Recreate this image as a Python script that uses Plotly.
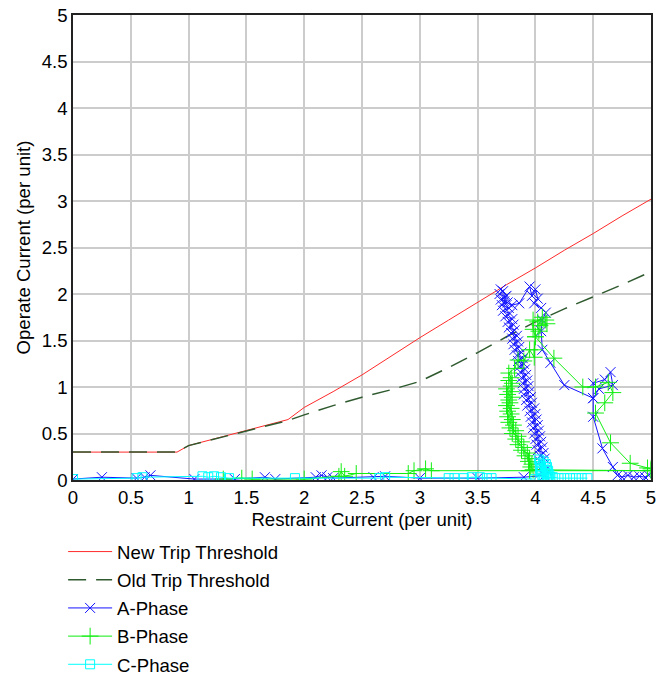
import plotly.graph_objects as go

# Thresholds
new_x = [0.0, 0.5, 0.9, 1.0, 1.25, 1.5, 1.75, 1.86, 2.0, 2.25, 2.5, 2.75, 3.0, 3.25, 3.5, 3.75, 4.0, 4.25, 4.5, 4.75, 5.0]
new_y = [0.30, 0.30, 0.30, 0.37, 0.45, 0.53, 0.61, 0.65, 0.78, 0.95, 1.13, 1.33, 1.53, 1.72, 1.91, 2.10, 2.28, 2.47, 2.65, 2.84, 3.02]

old_x = [0.0, 0.5, 0.9, 1.0, 1.25, 1.5, 1.75, 1.86, 2.0, 2.25, 2.5, 2.75, 3.0, 3.25, 3.5, 3.75, 4.0, 4.25, 4.5, 4.75, 5.0]
old_y = [0.30, 0.30, 0.30, 0.37, 0.45, 0.53, 0.61, 0.64, 0.70, 0.80, 0.89, 0.97, 1.06, 1.21, 1.37, 1.54, 1.70, 1.84, 1.97, 2.10, 2.24]

# A-Phase
a_x = [0.00, 0.25, 0.55, 0.62, 0.67, 1.05, 1.40, 1.66, 1.75, 2.10, 2.15, 2.20, 2.25, 2.60, 2.70, 3.00, 3.50, 3.90,
       4.08, 4.05, 4.09, 4.05, 4.08, 4.04, 4.08, 4.04, 4.07, 4.02, 4.06, 4.01, 4.05, 4.00, 4.04, 3.99, 4.03, 3.98,
       4.02, 3.97, 4.01, 3.96, 4.00, 3.95, 3.99, 3.93, 3.97, 3.92, 3.96, 3.90, 3.95, 3.90, 3.94, 3.89, 3.93, 3.88,
       3.92, 3.87, 3.91, 3.86, 3.90, 3.85, 3.89, 3.84, 3.88, 3.82, 3.86, 3.81, 3.85, 3.80, 3.84, 3.79, 3.82, 3.77,
       3.81, 3.76, 3.80, 3.74, 3.78, 3.72, 3.77, 3.71, 3.76, 3.70, 3.74, 3.69, 3.72, 3.70, 3.75, 3.73,
       3.80, 3.86, 3.95, 3.97, 4.00, 4.02, 3.99, 4.05, 4.09, 4.06, 4.05, 4.06, 4.13, 4.25, 4.50, 4.50, 4.60, 4.65,
       4.67, 4.55, 4.50, 4.50, 4.58, 4.67, 4.71, 4.75, 4.80, 4.85, 4.90, 4.95, 4.98]
a_y = [0.01, 0.03, 0.02, 0.03, 0.05, 0.01, 0.01, 0.03, 0.01, 0.03, 0.05, 0.03, 0.02, 0.03, 0.04, 0.02, 0.02, 0.03,
       0.05, 0.08, 0.11, 0.14, 0.17, 0.20, 0.23, 0.26, 0.29, 0.32, 0.35, 0.38, 0.41, 0.44, 0.47, 0.50, 0.53, 0.56,
       0.59, 0.62, 0.65, 0.68, 0.71, 0.74, 0.77, 0.80, 0.83, 0.86, 0.89, 0.92, 0.95, 0.98, 1.01, 1.04, 1.07, 1.10,
       1.13, 1.16, 1.19, 1.22, 1.25, 1.28, 1.31, 1.34, 1.37, 1.40, 1.43, 1.46, 1.49, 1.52, 1.55, 1.58, 1.61, 1.64,
       1.67, 1.70, 1.73, 1.76, 1.79, 1.82, 1.85, 1.88, 1.91, 1.94, 1.97, 2.00, 2.03, 2.05, 1.98, 1.92,
       1.88, 1.90, 2.08, 1.98, 2.05, 1.95, 1.90, 1.85, 1.80, 1.72, 1.60, 1.40, 1.26, 1.02, 0.88, 1.04, 1.08, 1.16,
       1.02, 0.98, 0.88, 0.68, 0.34, 0.14, 0.05, 0.03, 0.05, 0.03, 0.04, 0.03, 0.05]

# B-Phase
b_x = [1.30, 1.46, 1.55, 2.00, 2.30, 2.32, 2.35, 2.45, 2.90, 2.95, 3.05, 3.10, 3.95, 5.00, 3.98,
       3.96, 3.97, 3.94, 3.95, 3.91, 3.93, 3.88, 3.90, 3.85, 3.88, 3.83, 3.85, 3.80, 3.83, 3.78, 3.81, 3.77,
       3.80, 3.76, 3.79, 3.76, 3.79, 3.75, 3.78, 3.77, 3.80, 3.76, 3.79, 3.75, 3.79, 3.80, 3.77, 3.79, 3.77,
       3.82, 3.85, 3.90, 3.95, 3.99, 3.99, 4.00, 3.98, 3.98, 4.02, 4.06, 4.09, 4.04, 4.10, 4.03, 4.00,
       4.16, 4.41, 4.52, 4.63, 4.67, 4.60, 4.52, 4.65, 4.82, 4.97, 5.00]
b_y = [0.01, 0.02, 0.01, 0.01, 0.04, 0.09, 0.04, 0.07, 0.07, 0.10, 0.12, 0.10, 0.10, 0.10, 0.11,
       0.14, 0.17, 0.20, 0.23, 0.26, 0.29, 0.32, 0.35, 0.38, 0.41, 0.44, 0.47, 0.50, 0.53, 0.56, 0.59, 0.62,
       0.65, 0.68, 0.71, 0.74, 0.77, 0.80, 0.83, 0.86, 0.89, 0.92, 0.95, 0.98, 1.01, 1.04, 1.07, 1.10, 1.15,
       1.20, 1.29, 1.28, 1.40, 1.32, 1.40, 1.54, 1.62, 1.72, 1.70, 1.75, 1.72, 1.66, 1.68, 1.60, 1.54,
       1.31, 1.00, 1.00, 1.05, 0.94, 0.83, 0.72, 0.40, 0.18, 0.13, 0.12]

# C-Phase
c_x = [0.00, 0.55, 0.60, 1.12, 1.17, 1.22, 1.28, 1.35, 1.92, 2.65, 2.70, 3.25, 3.30, 3.38, 3.45, 3.52, 3.58, 3.62, 4.00,
       4.03, 4.07, 4.04, 4.09, 4.05, 4.10, 4.04, 4.08, 4.11, 4.05, 4.09, 4.12, 4.06, 4.10, 4.13, 4.07, 4.11, 4.15,
       4.20, 4.25, 4.30, 4.35, 4.40, 4.45]
c_y = [0.01, 0.02, 0.03, 0.04, 0.03, 0.04, 0.03, 0.02, 0.02, 0.02, 0.03, 0.02, 0.02, 0.02, 0.03, 0.03, 0.02, 0.02, 0.01,
       0.22, 0.20, 0.18, 0.17, 0.15, 0.14, 0.12, 0.11, 0.10, 0.09, 0.07, 0.06, 0.05, 0.04, 0.03, 0.02, 0.02, 0.03,
       0.02, 0.02, 0.02, 0.02, 0.02, 0.02]

ticks = [0, 0.5, 1, 1.5, 2, 2.5, 3, 3.5, 4, 4.5, 5]
tick_text = ["0", "0.5", "1", "1.5", "2", "2.5", "3", "3.5", "4", "4.5", "5"]

FONT = "Liberation Sans, Arial, sans-serif"
FS = 18.6

fig = go.Figure()
fig.add_trace(go.Scatter(x=new_x, y=new_y, mode="lines", name="New Trip Threshold",
                         line=dict(color="#ff2a2a", width=1), legendgroup="g1"))
fig.add_trace(go.Scatter(x=old_x, y=old_y, mode="lines", name="Old Trip Threshold",
                         line=dict(color="#2f5a2f", width=1.5, dash="18px,10px"), legendgroup="g2"))
fig.add_trace(go.Scatter(x=a_x, y=a_y, mode="lines+markers", name="A-Phase",
                         line=dict(color="#1414ff", width=1),
                         marker=dict(symbol="x-thin-open", size=10, color="#1414ff", line=dict(width=1, color="#1414ff")),
                         legendgroup="g3"))
fig.add_trace(go.Scatter(x=b_x, y=b_y, mode="lines+markers", name="B-Phase",
                         line=dict(color="#11ee11", width=1),
                         marker=dict(symbol="cross-thin-open", size=12, color="#11ee11", line=dict(width=1, color="#11ee11")),
                         legendgroup="g4"))
fig.add_trace(go.Scatter(x=c_x, y=c_y, mode="lines+markers", name="C-Phase",
                         line=dict(color="#00ffff", width=1),
                         marker=dict(symbol="square-open", size=9, color="#00ffff", line=dict(width=1, color="#00ffff")),
                         legendgroup="g5"))

axis_common = dict(range=[0, 5], tickvals=ticks, ticktext=tick_text, showgrid=True,
                   gridcolor="#cccccc", gridwidth=2, showline=True, linecolor="#222222", linewidth=1.5,
                   mirror=True, zeroline=False, ticks="", ticklabeloverflow="allow",
                   tickfont=dict(size=FS, color="black", family=FONT))

fig.update_xaxes(**axis_common, title=dict(text="Restraint Current (per unit)", font=dict(size=FS, color="black", family=FONT), standoff=6))
fig.update_yaxes(**axis_common, title=dict(text="Operate Current (per unit)", font=dict(size=FS, color="black", family=FONT), standoff=6))

fig.update_layout(
    width=657, height=675,
    margin=dict(l=73, r=1, t=15, b=195),
    plot_bgcolor="white", paper_bgcolor="white",
    font=dict(family=FONT, size=FS, color="black"),
    legend=dict(orientation="v", xref="paper", x=-0.0171, xanchor="left",
                yref="container", y=0.2104, yanchor="top",
                font=dict(size=FS, family=FONT, color="black"), itemwidth=44, tracegroupgap=1,
                bgcolor="rgba(0,0,0,0)"),
    showlegend=True,
)

fig.write_html("out.html")
